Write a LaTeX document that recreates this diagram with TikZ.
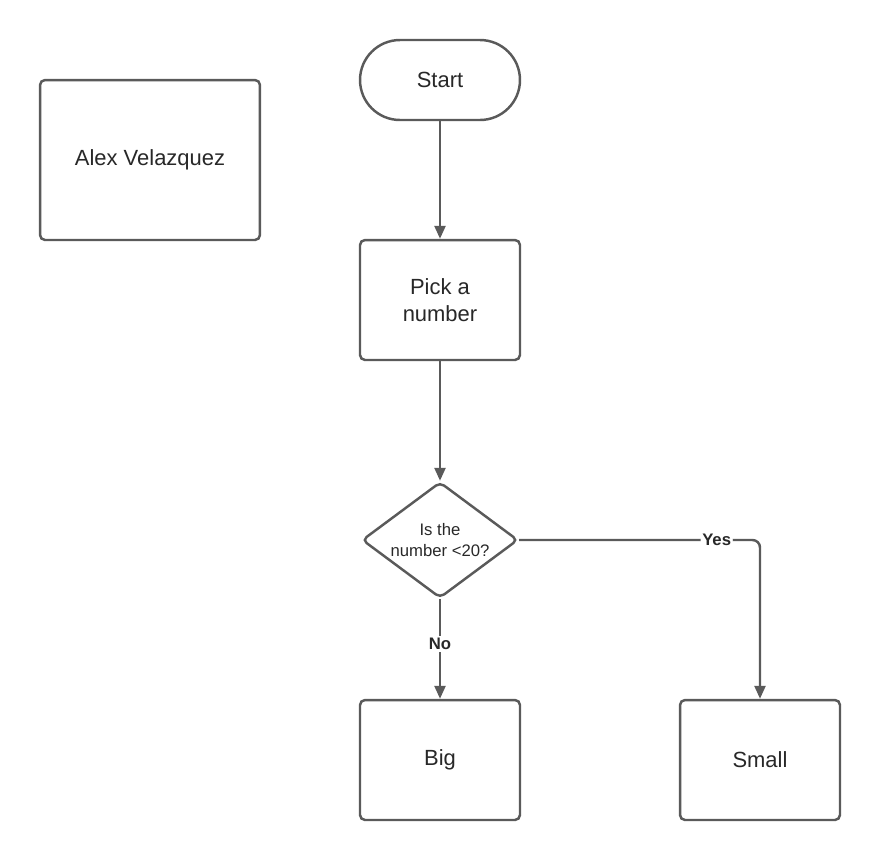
\documentclass[tikz,border=0pt]{standalone}
\usepackage{fontspec}
\setmainfont{Liberation Sans}
\usepackage{tikz}
\usepackage{xcolor}
\usetikzlibrary{shapes.geometric,arrows.meta}

\definecolor{linegray}{RGB}{90,90,90}
\definecolor{textgray}{RGB}{40,40,40}

\begin{document}
\begin{tikzpicture}[x=0.02cm,y=-0.02cm,
        box/.style={draw=linegray,line width=1.4pt,rounded corners=1mm,fill=white,
            minimum width=3.2cm,minimum height=2.4cm,align=center,text=textgray,
            font=\fontsize{12.5}{15}\selectfont},
        flow/.style={draw=linegray,line width=1.4pt,-{Triangle[length=2.6mm,width=2.2mm]}},
        lbl/.style={fill=white,inner sep=1pt,font=\fontsize{9.5}{11}\selectfont\bfseries,text=textgray}]
        \useasboundingbox (0,0) rectangle (880,860);

        % Name
        \node[box,minimum width=4.4cm,minimum height=3.2cm] (name) at (150,160) {Alex Velazquez};

        % Flow chart
        \node[box,minimum height=1.6cm,rounded corners=0.8cm] (start) at (440,80) {Start};
        \node[box] (pick) at (440,300) {Pick a\\number};
        \node[draw=linegray,line width=1.4pt,shape=diamond,aspect=1.35,rounded corners=1mm,
            minimum width=3.12cm,minimum height=2.32cm,inner sep=0pt,align=center,
            text=textgray,font=\fontsize{9.5}{12}\selectfont] (check) at (440,540) {Is the\\number <20?};
        \node[box] (big) at (440,760) {Big};
        \node[box] (small) at (760,760) {Small};

        % Connectors
        \draw[flow] (start) -- (pick);
        \draw[flow] (pick) -- (check);
        \draw[flow] (check) -- node[lbl,pos=0.45] {No} (big);
        \draw[flow,rounded corners=1.5mm] (check.east) -- (760,540) node[lbl,pos=0.82] {Yes} -- (small.north);
    \end{tikzpicture}
\end{document}
